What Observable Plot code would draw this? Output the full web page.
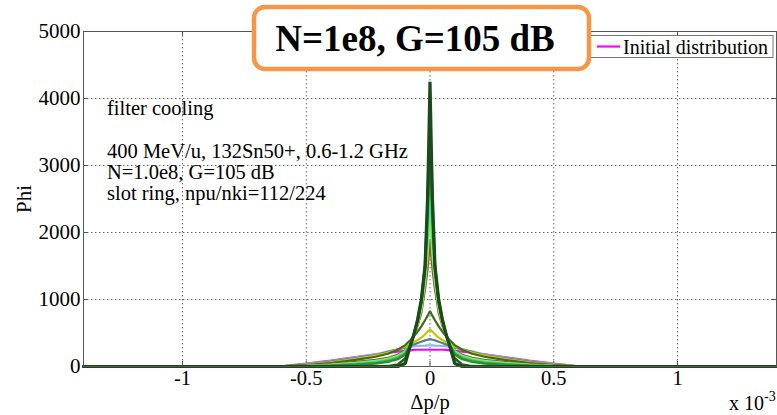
<!DOCTYPE html>
<html>
<head>
<meta charset="utf-8">
<script src="https://cdn.jsdelivr.net/npm/d3@7"></script>
<script src="https://cdn.jsdelivr.net/npm/@observablehq/plot@0.6"></script>
<style>
  body { margin: 0; background: #fff; }
  #wrap { position: relative; width: 777px; height: 415px; font-family: "Liberation Serif", serif; }
  #wrap svg text { font-family: "Liberation Serif", serif !important; }
  #wrap svg.ov { position: absolute; left: 0; top: 0; }
</style>
</head>
<body>
<div id="wrap"></div>
<script>
// ---- data (x in units of 1e-3) ----
const halfX = [0, 0.005, 0.01, 0.02, 0.035, 0.05, 0.065, 0.08, 0.1, 0.13, 0.17, 0.22, 0.3, 0.4, 0.5, 0.6, 0.7, 1.4];
const curveNames = ["initial", "c2", "c3", "c4", "c5", "c6", "c7", "c8", "c9", "c10", "c11", "final"];
const curveValues = [
  [250,250,250,250,250,250,248,242,235,222,205,182,142,88,42,3,0,0],
  [315,315,314,312,310,308,302,292,278,255,228,178,135,80,38,4,0,0],
  [410,405,400,390,370,350,330,310,285,255,215,172,125,72,33,3,0,0],
  [550,535,520,480,430,395,365,335,300,255,205,162,115,62,28,3,0,0],
  [830,790,755,690,600,520,450,390,320,250,190,145,100,52,22,2,0,0],
  [1900,1650,1450,1150,800,610,450,340,240,175,130,100,68,38,15,2,0,0],
  [2300,1950,1650,1250,850,640,460,340,230,160,115,85,55,30,10,1,0,0],
  [2700,2250,1850,1350,900,660,470,335,215,145,100,72,46,24,8,0,0,0],
  [3100,2550,2050,1420,930,675,475,325,200,130,88,60,36,18,5,0,0,0],
  [3500,2850,2250,1480,960,690,478,315,180,110,70,45,26,11,3,0,0,0],
  [3900,3100,2400,1500,980,695,480,305,120,30,5,0,0,0,0,0,0,0],
  [4250,3300,2500,1500,1000,700,480,300,45,0,0,0,0,0,0,0,0,0]
];
const xTicks = [-1, -0.5, 0, 0.5, 1];
const xTickLabels = ["-1", "-0.5", "0", "0.5", "1"];
const yTicks = [0, 1000, 2000, 3000, 4000, 5000];
const yTickLabels = ["0", "1000", "2000", "3000", "4000", "5000"];
const titleText = "N=1e8, G=105 dB";
const legendLabel = "Initial distribution";
const noteLines = ["filter cooling", "", "400 MeV/u, 132Sn50+, 0.6-1.2 GHz", "N=1.0e8, G=105 dB", "slot ring, npu/nki=112/224"];
const xLabel = "Δp/p";
const yLabel = "Phi";

// ---- styles ----
const palette = ["#ff00ff", "#8ab4f8", "#557f8d", "#c8c800", "#3b6e1b", "#8c5b2e",
                 "#a2e84a", "#40e8b8", "#33c433", "#2f8f2f", "#245c24", "#1b4a1b"];
const widths = [2.2, 2.2, 2.2, 2.2, 2.2, 2.2, 2.2, 2.2, 2.2, 2.4, 2.6, 3.2];

function buildRows(vals) {
  const rows = [];
  for (let i = halfX.length - 1; i >= 1; i--) rows.push({x: -halfX[i], y: vals[i]});
  for (let i = 0; i < halfX.length; i++) rows.push({x: halfX[i], y: vals[i]});
  return rows;
}

const lineMarks = curveValues.map((vals, i) =>
  Plot.line(buildRows(vals), {x: "x", y: "y", stroke: palette[i], strokeWidth: widths[i], strokeLinejoin: "miter"})
);

const W = 777, H = 415;
const FONT = "Liberation Serif";
const chart = Plot.plot({
  width: W, height: H,
  marginLeft: 83, marginRight: 1, marginTop: 31, marginBottom: 49,
  style: {fontFamily: FONT, fontSize: "21px", color: "#000", background: "#fff"},
  x: {domain: [-1.4, 1.4]},
  y: {domain: [0, 5000]},
  marks: [
    Plot.ruleX(xTicks, {x: d => d, stroke: "#555", strokeWidth: 0.9, strokeDasharray: "1.5,2.5"}),
    Plot.ruleY(yTicks.slice(1, -1), {y: d => d, stroke: "#555", strokeWidth: 0.9, strokeDasharray: "1.5,2.5"}),
    Plot.ruleX(xTicks, {x: d => d, y1: 0, y2: 75, stroke: "#555"}),
    Plot.ruleX(xTicks, {x: d => d, y1: 4925, y2: 5000, stroke: "#555"}),
    Plot.ruleY(yTicks, {y: d => d, x1: -1.4, x2: -1.38, stroke: "#555"}),
    Plot.ruleY(yTicks, {y: d => d, x1: 1.38, x2: 1.4, stroke: "#555"}),
    ...lineMarks,
    Plot.frame({stroke: "#555", strokeWidth: 1}),
    Plot.axisX(xTicks, {tickSize: 0, tickPadding: 4, tickFormat: (d, i) => xTickLabels[i], label: xLabel, labelAnchor: "center", labelArrow: "none", labelOffset: 42, fontSize: 20.5, fontFamily: FONT}),
    Plot.axisY(yTicks, {tickSize: 0, tickPadding: 3, tickFormat: (d, i) => yTickLabels[i], label: yLabel, labelAnchor: "center", labelArrow: "none", labelOffset: 67, fontSize: 21, fontFamily: FONT})
  ]
});
const wrap = document.getElementById("wrap");
wrap.appendChild(chart);

// ---- overlay: notes, legend, title box, exponent ----
const ov = d3.select(wrap).append("svg").attr("class", "ov").attr("width", W).attr("height", H)
  .style("font-family", FONT);

const noteY = [115, 136, 158, 179, 200];
noteLines.forEach((t, i) => {
  if (t) ov.append("text").attr("x", 107).attr("y", noteY[i]).attr("font-size", 20.5).attr("fill", "#000").text(t);
});

// legend
ov.append("rect").attr("x", 586).attr("y", 35.5).attr("width", 187).attr("height", 22)
  .attr("fill", "#fff").attr("stroke", "#777").attr("stroke-width", 1);
ov.append("line").attr("x1", 597).attr("x2", 620).attr("y1", 46.5).attr("y2", 46.5)
  .attr("stroke", palette[0]).attr("stroke-width", 2.2);
ov.append("text").attr("x", 623).attr("y", 54).attr("font-size", 20).text(legendLabel);

// title box
ov.append("rect").attr("x", 254).attr("y", 7).attr("width", 335).attr("height", 62).attr("rx", 11)
  .attr("fill", "#fff").attr("stroke", "#f79646").attr("stroke-width", 4.5);
ov.append("text").attr("x", 415).attr("y", 51).attr("text-anchor", "middle")
  .attr("font-size", 37).attr("font-weight", "bold").text(titleText);

// exponent
const ex = ov.append("text").attr("x", 729).attr("y", 410).attr("font-size", 20);
ex.append("tspan").text("x 10");
ex.append("tspan").attr("dy", -9).attr("font-size", 14).text("-3");
</script>
</body>
</html>
